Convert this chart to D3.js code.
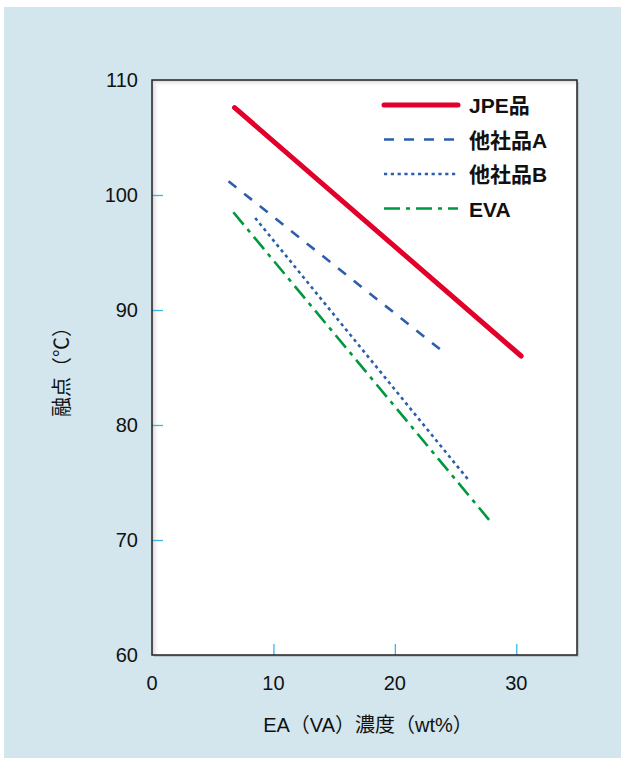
<!DOCTYPE html>
<html><head><meta charset="utf-8">
<script src="https://cdn.jsdelivr.net/npm/d3@7"></script>
<style>body{margin:0;background:#fff}svg{display:block}</style>
</head><body>
<script>
const xTicks = [0, 10, 20, 30];
const yTicks = [60, 70, 80, 90, 100, 110];
const seriesNames = ["JPE品", "他社品A", "他社品B", "EVA"];
const jpe = [[6.8, 107.6], [30.4, 86.0]];
const otherA = [[6.3, 101.2], [23.7, 86.6]];
const otherB = [[8.5, 98.0], [26.0, 75.3]];
const eva = [[6.7, 98.5], [27.8, 71.7]];
const colors = ["#e2002b", "#2c5eab", "#2c5eab", "#00983f"];
const widths = [5, 2.6, 2.6, 2.6];
const dashes = [null, "10,10", "3.2,3.6", "16,6,4,6"];

const W = 621, H = 758;
const svg = d3.select("body").append("svg").attr("width", W).attr("height", H);
svg.append("rect").attr("x", 4).attr("y", 7).attr("width", W - 4).attr("height", H - 7).attr("fill", "#d3e6ee");

const L = 152, T = 80, R = 577, B = 655;
const x = d3.scaleLinear().domain([0, 35]).range([L, R]);
const y = d3.scaleLinear().domain([60, 110]).range([B, T]);

const defs = svg.append("defs");
const gl = defs.append("linearGradient").attr("id", "gl").attr("x1", 0).attr("x2", 1).attr("y1", 0).attr("y2", 0);
gl.append("stop").attr("offset", 0).attr("stop-color", "#cfcfcf");
gl.append("stop").attr("offset", 1).attr("stop-color", "#fff").attr("stop-opacity", 0);
const gt = defs.append("linearGradient").attr("id", "gt").attr("x1", 0).attr("x2", 0).attr("y1", 0).attr("y2", 1);
gt.append("stop").attr("offset", 0).attr("stop-color", "#cfcfcf");
gt.append("stop").attr("offset", 1).attr("stop-color", "#fff").attr("stop-opacity", 0);

svg.append("rect").attr("x", L + 2).attr("y", T + 2).attr("width", R - L).attr("height", B - T).attr("fill", "#888").attr("opacity", 0.35);
svg.append("rect").attr("x", L).attr("y", T).attr("width", R - L).attr("height", B - T).attr("fill", "#fff");
svg.append("rect").attr("x", L).attr("y", T).attr("width", 8).attr("height", B - T).attr("fill", "url(#gl)");
svg.append("rect").attr("x", L).attr("y", T).attr("width", R - L).attr("height", 7).attr("fill", "url(#gt)");

// ticks (inward, light blue)
const tickCol = "#3bb4e6";
svg.append("g").attr("transform", `translate(0,${B})`)
  .call(d3.axisBottom(x).tickValues(xTicks.filter(d => d > 0)).tickSize(-11).tickFormat(""))
  .call(g => { g.select(".domain").remove(); g.selectAll("line").attr("stroke", tickCol).attr("stroke-width", 1.3); });
svg.append("g").attr("transform", `translate(${L},0)`)
  .call(d3.axisLeft(y).tickValues(yTicks.filter(d => d > 60 && d < 110)).tickSize(-11).tickFormat(""))
  .call(g => { g.select(".domain").remove(); g.selectAll("line").attr("stroke", tickCol).attr("stroke-width", 1.3); });

svg.append("rect").attr("x", L).attr("y", T).attr("width", R - L).attr("height", B - T)
  .attr("fill", "none").attr("stroke", "#222").attr("stroke-width", 1.5);

const font = "'Liberation Sans', Arial, Helvetica, sans-serif";
const mixed = "'Liberation Sans', 'Noto Sans CJK JP', sans-serif";
svg.append("g").selectAll("text").data(xTicks).join("text")
  .attr("x", d => x(d)).attr("y", B + 35).attr("text-anchor", "middle")
  .attr("font-family", font).attr("font-size", 20).attr("fill", "#111").text(d => d);
svg.append("g").selectAll("text").data(yTicks).join("text")
  .attr("x", L - 14).attr("y", d => y(d) + 7).attr("text-anchor", "end")
  .attr("font-family", font).attr("font-size", 20).attr("fill", "#111").text(d => d);

svg.append("text").attr("x", 368).attr("y", 732).attr("text-anchor", "middle")
  .attr("font-family", mixed).attr("font-size", 20).attr("fill", "#111")
  .text("EA（VA）濃度（wt%）");
svg.append("text").attr("transform", "translate(69,367) rotate(-90)").attr("text-anchor", "middle")
  .attr("font-family", mixed).attr("font-size", 20).attr("fill", "#111")
  .text("融点（℃）");

const data = [jpe, otherA, otherB, eva];
const line = d3.line().x(d => x(d[0])).y(d => y(d[1]));
data.forEach((d, i) => {
  svg.append("path").attr("d", line(d)).attr("fill", "none")
    .attr("stroke", colors[i]).attr("stroke-width", widths[i])
    .attr("stroke-linecap", i === 0 ? "round" : "butt")
    .attr("stroke-dasharray", dashes[i]);
});

// legend
const lg = svg.append("g");
seriesNames.forEach((n, i) => {
  const yy = 105 + i * 34.5;
  lg.append("line").attr("x1", 384).attr("x2", 458).attr("y1", yy).attr("y2", yy)
    .attr("stroke", colors[i]).attr("stroke-width", widths[i])
    .attr("stroke-linecap", i === 0 ? "round" : "butt")
    .attr("stroke-dasharray", dashes[i]);
  lg.append("text").attr("x", 469).attr("y", yy + 8)
    .attr("font-family", mixed).attr("font-weight", "bold")
    .attr("font-size", 21).attr("fill", "#111").text(n);
});
</script>
</body></html>
